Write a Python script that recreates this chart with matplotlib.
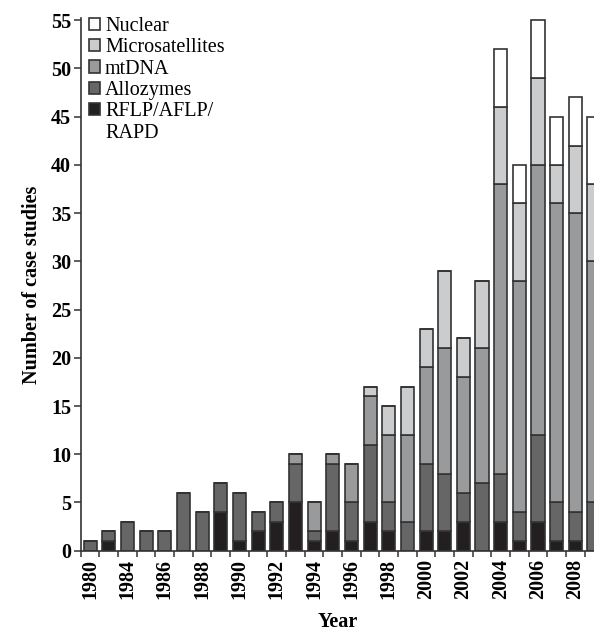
import numpy as np
from matplotlib import pyplot as plt
from matplotlib.patches import Patch

plt.rcParams['font.family'] = ['Liberation Serif', 'DejaVu Serif']

# one bar per study year (the original labels 1980, 1984, 1986 ... 2008)
tick_text = ['1980', '1984', '1986', '1988', '1990', '1992', '1994',
             '1996', '1998', '2000', '2002', '2004', '2006', '2008']
rflp = [0, 1, 0, 0, 0, 0, 0, 4, 1, 2, 3, 5, 1, 2, 1, 3, 2, 0, 2, 2, 3, 0, 3, 1, 3, 1, 1, 0]
allozymes = [1, 1, 3, 2, 2, 6, 4, 3, 5, 2, 2, 4, 1, 7, 4, 8, 3, 3, 7, 6, 3, 7, 5, 3, 9, 4, 3, 5]
mtdna = [0, 0, 0, 0, 0, 0, 0, 0, 0, 0, 0, 1, 3, 1, 4, 5, 7, 9, 10, 13, 12, 14, 30, 24, 28, 31, 31, 25]
micro = [0, 0, 0, 0, 0, 0, 0, 0, 0, 0, 0, 0, 0, 0, 0, 1, 3, 5, 4, 8, 4, 7, 8, 8, 9, 4, 7, 8]
nuclear = [0, 0, 0, 0, 0, 0, 0, 0, 0, 0, 0, 0, 0, 0, 0, 0, 0, 0, 0, 0, 0, 0, 6, 4, 6, 5, 5, 7]

series = [
    ('RFLP/AFLP/', rflp, '#231f20'),
    ('Allozymes', allozymes, '#666666'),
    ('mtDNA', mtdna, '#999a9c'),
    ('Microsatellites', micro, '#cbcccd'),
    ('Nuclear', nuclear, '#ffffff'),
]

fig = plt.figure(figsize=(5.94, 6.34), dpi=100)
ax = fig.add_axes([0.136, 0.1314, 0.864, 0.8398])

x = np.arange(len(rflp))
bottom = np.zeros(len(rflp))
handles = []
for name, vals, col in series:
    vals = np.array(vals)
    b = ax.bar(x, vals, width=0.7, bottom=bottom, color=col,
               edgecolor='#333333', linewidth=1.2, label=name)
    handles.append(b)
    bottom = bottom + vals

ax.set_xlim(-0.5, 27.0)
ax.set_ylim(0, 55.2)
ax.set_yticks(range(0, 56, 5))

# labels under every other bar, tick marks at the bar edges
ax.set_xticks(x[::2])
ax.set_xticklabels(tick_text, rotation=90)
ax.set_xticks(x - 0.5, minor=True)
ax.tick_params(axis='x', which='major', length=0, pad=6)
ax.tick_params(axis='x', which='minor', length=4, width=1.1, color='#333333')
ax.tick_params(axis='y', length=5, width=1.1, color='#333333', pad=2)
for lab in ax.get_xticklabels() + ax.get_yticklabels():
    lab.set_fontweight('bold')
    lab.set_fontsize(14.5)

for s in ['top', 'right']:
    ax.spines[s].set_visible(False)
for s in ['left', 'bottom']:
    ax.spines[s].set_color('#333333')
    ax.spines[s].set_linewidth(1.2)

ax.set_ylabel('Number of case studies', fontsize=14.5, fontweight='bold', labelpad=6)
ax.set_xlabel('Year', fontsize=14.5, fontweight='bold', labelpad=9)

# second line of the last legend label sits under it without a swatch
blank = Patch(facecolor='none', edgecolor='none')
leg_handles = handles[::-1] + [blank]
leg_labels = [s[0] for s in series][::-1] + ['RAPD']
ax.legend(leg_handles, leg_labels, loc='upper left',
          bbox_to_anchor=(0.0, 1.018), frameon=False, fontsize=14.5,
          handlelength=0.55, handleheight=0.55, handletextpad=0.25,
          labelspacing=0.12, borderaxespad=0)

fig.savefig('out.png', dpi=100)
